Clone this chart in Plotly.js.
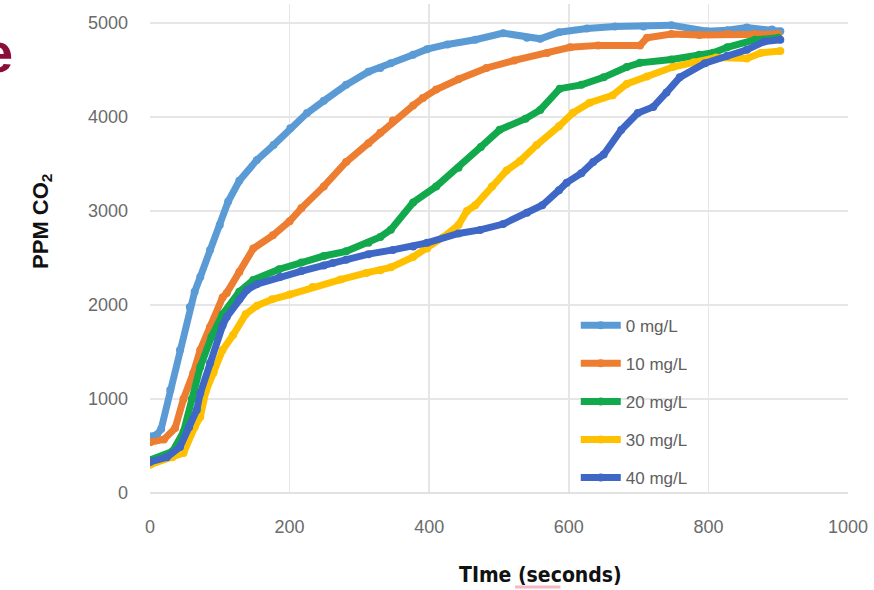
<!DOCTYPE html>
<html>
<head>
<meta charset="utf-8">
<script src="https://cdn.plot.ly/plotly-3.0.1.min.js"></script>
<style>html,body{margin:0;padding:0;background:#fff;}#chart{width:874px;height:590px;}</style>
</head>
<body>
<div id="chart"></div>
<script>
// Series names
var seriesNames = ["0 mg/L", "10 mg/L", "20 mg/L", "30 mg/L", "40 mg/L"];

// 0 mg/L
var t0 = [0, 10, 16, 29, 43, 57, 64, 72, 86, 100, 112, 128, 153, 177, 201, 225, 249, 281, 313, 330, 345, 377, 397, 426, 466, 506, 540, 559, 586, 626, 666, 707, 747, 798, 827, 855, 891, 903];
var v0 = [600, 620, 680, 1096, 1521, 1979, 2140, 2298, 2585, 2850, 3100, 3320, 3540, 3700, 3880, 4040, 4170, 4340, 4480, 4520, 4570, 4660, 4720, 4770, 4820, 4890, 4840, 4830, 4900, 4940, 4960, 4960, 4975, 4910, 4920, 4950, 4930, 4910];

// 10 mg/L
var t10 = [0, 20, 36, 48, 62, 72, 86, 104, 110, 128, 148, 176, 200, 217, 249, 281, 313, 330, 348, 377, 391, 410, 442, 482, 522, 569, 602, 642, 702, 712, 747, 787, 827, 867, 900];
var v10 = [540, 570, 690, 1000, 1277, 1520, 1766, 2080, 2128, 2350, 2600, 2740, 2890, 3030, 3260, 3520, 3720, 3830, 3960, 4120, 4200, 4290, 4400, 4520, 4600, 4680, 4740, 4760, 4760, 4840, 4880, 4870, 4880, 4880, 4880];

// 20 mg/L
var t20 = [0, 32, 48, 60, 72, 88, 104, 128, 148, 185, 217, 249, 281, 313, 330, 345, 377, 410, 442, 474, 501, 538, 559, 587, 618, 650, 683, 702, 747, 787, 807, 827, 867, 900];
var v20 = [350, 440, 650, 1000, 1340, 1660, 1900, 2140, 2266, 2380, 2450, 2520, 2570, 2660, 2723, 2800, 3090, 3260, 3460, 3680, 3862, 3980, 4074, 4300, 4340, 4420, 4530, 4574, 4610, 4660, 4681, 4740, 4820, 4840];

// 30 mg/L
var t30 = [0, 32, 48, 64, 72, 80, 91, 104, 119, 137, 153, 175, 200, 233, 273, 310, 330, 345, 377, 397, 420, 442, 454, 466, 490, 511, 530, 554, 586, 606, 630, 663, 683, 712, 749, 779, 811, 855, 875, 903];
var v30 = [300, 380, 425, 700, 808, 1080, 1280, 1520, 1680, 1900, 1990, 2060, 2110, 2190, 2270, 2340, 2370, 2400, 2510, 2600, 2720, 2850, 3000, 3060, 3260, 3430, 3530, 3700, 3900, 4043, 4150, 4230, 4350, 4430, 4530, 4580, 4630, 4620, 4680, 4700];

// 40 mg/L
var t40 = [0, 24, 43, 56, 67, 72, 86, 104, 110, 128, 139, 153, 186, 217, 249, 262, 281, 313, 348, 377, 397, 442, 473, 506, 540, 562, 586, 597, 618, 635, 650, 675, 699, 721, 740, 759, 795, 827, 855, 880, 903];
var v40 = [330, 380, 490, 700, 883, 1060, 1383, 1780, 1872, 2060, 2160, 2220, 2298, 2360, 2420, 2447, 2480, 2540, 2585, 2620, 2660, 2760, 2798, 2860, 2979, 3060, 3220, 3300, 3400, 3520, 3600, 3860, 4040, 4106, 4260, 4420, 4570, 4650, 4713, 4800, 4820];

var xTickVals = [0, 200, 400, 600, 800, 1000];
var yTickVals = [0, 1000, 2000, 3000, 4000, 5000];

var colors = ["#5B9BD5", "#ED7D31", "#12A84C", "#FFC000", "#3F67C6"];
var xs = [t0, t10, t20, t30, t40];
var ys = [v0, v10, v20, v30, v40];

var narrow = '"Liberation Sans Narrow", "DejaVu Sans Condensed", "Arial Narrow", sans-serif';
var tickFamily = '"Liberation Sans", Arial, sans-serif';

var traces = [];
for (var i = 0; i < 5; i++) {
  traces.push({
    type: 'scatter',
    mode: 'lines+markers',
    x: xs[i],
    y: ys[i],
    name: seriesNames[i],
    legendgroup: 'g' + i,
    line: {color: colors[i], width: 7, shape: 'linear'},
    marker: {color: colors[i], size: 8, symbol: 'circle'},
    hoverinfo: 'skip'
  });
}

var layout = {
  width: 874,
  height: 590,
  margin: {l: 150, r: 26, t: 4, b: 97},
  paper_bgcolor: '#ffffff',
  plot_bgcolor: '#ffffff',
  showlegend: true,
  legend: {
    x: 0.61, y: 0.379, xanchor: 'left', yanchor: 'top',
    bgcolor: 'rgba(255,255,255,0)',
    font: {family: tickFamily, size: 17, color: '#5f5f5f'},
    tracegroupgap: 13,
    itemwidth: 40
  },
  xaxis: {
    range: [0, 1000],
    tickvals: xTickVals,
    ticktext: xTickVals.map(String),
    showgrid: true,
    gridcolor: '#e6e6e6',
    gridwidth: 1.5,
    zeroline: false,
    showline: false,
    ticks: '',
    ticklabelstandoff: 21,
    tickfont: {family: tickFamily, size: 18, color: '#6b6b6b'}
  },
  yaxis: {
    range: [0, 5200],
    tickvals: yTickVals,
    ticktext: yTickVals.map(String),
    showgrid: true,
    gridcolor: '#e6e6e6',
    gridwidth: 1.5,
    zeroline: false,
    showline: false,
    ticks: '',
    ticklabelstandoff: 21,
    tickfont: {family: tickFamily, size: 18, color: '#6b6b6b'}
  },
  shapes: [
    {type: 'line', xref: 'paper', yref: 'paper', x0: 0, x1: 1, y0: 0, y1: 0,
     line: {color: '#d9d9d9', width: 1.5}},
    {type: 'line', xref: 'paper', yref: 'paper', x0: 0.523, x1: 0.588, y0: -0.192, y1: -0.192,
     line: {color: '#f6b8c6', width: 3}}
  ],
  annotations: [
    {text: '<b>e</b>', xref: 'paper', yref: 'paper', x: -0.243, y: 0.9,
     xanchor: 'left', yanchor: 'middle', showarrow: false,
     font: {family: 'Liberation Sans, Arial, sans-serif', size: 56, color: '#8B0D3A'}},
    {text: '<b>PPM CO<sub>2</sub></b>', xref: 'paper', yref: 'paper', x: -0.155, y: 0.556,
     xanchor: 'center', yanchor: 'middle', textangle: -90, showarrow: false,
     font: {family: 'Liberation Sans, Arial, sans-serif', size: 22, color: '#111111'}},
    {text: '<b>TIme (seconds)</b>', xref: 'paper', yref: 'paper', x: 0.559, y: -0.168,
     xanchor: 'center', yanchor: 'middle', showarrow: false,
     font: {family: narrow, size: 21, color: '#111111'}}
  ]
};

Plotly.newPlot('chart', traces, layout, {staticPlot: true, displayModeBar: false});
</script>
</body>
</html>
